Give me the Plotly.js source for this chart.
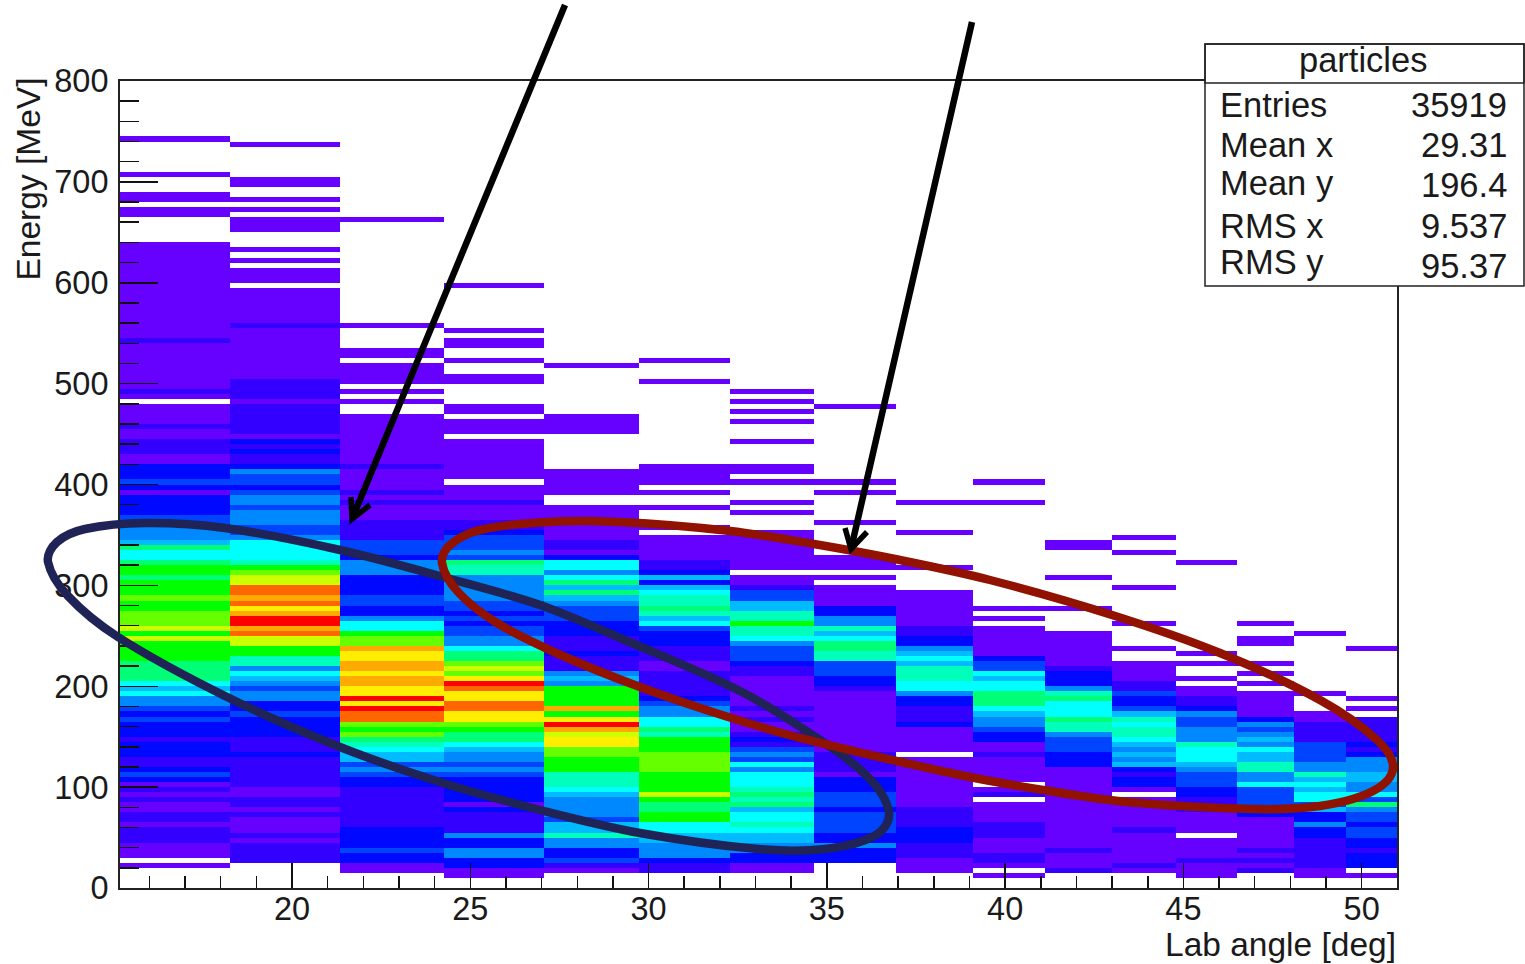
<!DOCTYPE html>
<html>
<head>
<meta charset="utf-8">
<script src="https://cdn.plot.ly/plotly-3.0.1.min.js"></script>
<style>html,body{margin:0;padding:0;background:#fff}#chart{width:1525px;height:964px}</style>
</head>
<body>
<div id="chart"></div>
<script>
// Lab-angle bin edges (degrees), 16 columns of unequal width
var angleEdges = [15.176,18.27,21.35,24.27,27.08,29.73,32.28,34.65,36.94,39.09,41.11,42.99,44.79,46.49,48.09,49.57,50.99];
var energyBinWidth = 5; // MeV
// Each column, bottom row first; colour level, 0 = empty
var col0 = [0,0,0,0,1,0,1,1,1,2, 2,2,1,2,2,1,1,2,1,2, 1,3,4,3,2,2,3,3,3,2, 3,3,3,4,3,4,5,5,7,6, 7,9,9,9,9,10,10,10,10,12, 10,12,11,11,11,10,10,11,10,10, 10,9,10,10,9,7,7,9,6,5, 5,5,4,4,3,3,3,3,1,3, 4,3,3,3,1,1,2,2,2,1, 1,2,1,1,1,1,0,1,2,1, 1,1,1,1,1,1,1,1,2,1, 1,1,1,1,1,1,1,1,1,1, 1,1,1,1,1,1,1,1,0,0, 0,0,0,1,1,0,1,1,0,0, 0,1,0,0,0,0,0,0,1];
var col1 = [0,0,0,0,0,2,2,2,2,1, 2,1,1,1,2,1,2,2,1,1, 2,2,2,2,2,2,3,2,2,2, 3,3,3,3,4,3,3,5,5,4, 5,6,7,5,8,8,10,10,12,12, 15,14,16,16,14,13,15,14,15,15, 12,12,11,10,8,7,7,7,7,5, 4,4,5,5,5,4,5,5,4,3, 4,4,5,3,2,2,3,2,3,1, 2,2,2,2,2,2,1,2,2,2, 2,1,1,1,1,1,1,1,1,1, 1,2,1,1,1,1,1,1,1,0, 1,1,1,0,1,0,1,0,0,0, 1,1,1,0,1,0,1,0,0,1, 1,0,0,0,0,0,0,1];
var col2 = [0,0,0,1,1,3,3,4,3,3, 3,3,2,2,2,2,2,2,2,2, 3,3,4,5,4,6,6,7,8,9, 11,10,11,15,15,16,13,16,13,13, 14,14,13,14,14,13,13,14,11,11, 10,7,7,5,3,3,4,4,3,3, 3,3,5,5,5,3,4,4,4,2, 2,2,2,1,1,1,2,1,2,1, 1,1,1,2,1,1,1,1,1,1, 1,1,1,1,0,0,1,0,1,0, 1,1,1,1,0,1,1,0,0,0, 0,1,0,0,0,0,0,0,0,0, 0,0,0,0,0,0,0,0,0,0, 0,0,1];
var col3 = [0,0,1,1,3,3,5,5,3,3, 5,2,2,2,2,3,1,3,3,3, 3,3,4,5,4,5,5,6,7,9, 9,10,11,13,13,15,15,13,13,15, 16,13,11,12,11,9,9,7,5,5, 4,4,3,4,3,4,4,5,5,5, 5,5,8,8,9,4,5,4,4,4, 3,2,2,1,1,1,2,1,1,1, 0,1,1,1,1,1,1,1,1,0, 1,1,1,0,1,1,0,0,0,0, 1,1,0,0,1,0,0,1,1,0, 1,0,0,0,0,0,0,0,0,1];
var col4 = [0,0,0,1,2,4,3,3,5,5, 8,6,6,4,5,5,5,5,6,7, 8,8,8,10,10,10,11,11,13,13, 12,14,16,13,10,14,10,10,10,10, 5,6,5,2,2,2,3,2,2,2, 3,3,3,4,4,4,5,6,9,6, 9,7,5,7,7,3,1,2,2,1, 1,1,1,1,1,1,0,0,1,1, 1,1,1,0,0,0,0,0,0,0, 1,1,1,1,0,0,0,0,0,0, 0,0,0,1];
var col5 = [0,0,0,2,2,3,5,5,5,6, 6,7,7,10,10,9,9,10,12,10, 10,10,10,11,11,11,11,10,10,10, 8,9,7,7,5,5,4,3,2,2, 2,2,2,1,1,2,2,2,3,3, 3,4,7,6,8,9,8,8,7,6, 3,6,3,2,2,1,1,1,1,1, 0,1,0,0,0,1,0,0,1,0, 1,1,1,1,0,0,0,0,0,0, 0,0,0,0,0,0,0,0,0,0, 1,0,0,0,1];
var col6 = [0,0,0,1,1,3,3,5,5,6, 6,7,8,7,7,6,9,8,9,8, 7,7,7,5,7,4,5,4,2,3, 2,1,1,2,1,2,1,1,1,1, 1,1,2,2,3,4,4,4,5,7, 8,8,10,8,8,6,6,4,4,2, 1,1,0,1,1,1,1,1,1,1, 1,0,0,0,1,0,1,0,0,0, 1,0,1,1,0,0,0,0,1,0, 0,0,1,0,1,0,1,0,1];
var col7 = [0,0,0,0,0,3,3,3,5,3, 3,4,4,4,4,3,4,4,4,3, 3,3,1,2,2,2,2,1,1,1, 1,1,1,1,1,1,1,1,1,2, 3,3,4,4,4,8,8,9,9,7, 6,8,5,5,3,3,1,1,1,1, 0,1,0,1,1,1,0,0,0,0, 0,0,1,0,0,0,0,0,1,0, 1,0,0,0,0,0,0,0,0,0, 0,0,0,0,0,1];
var col8 = [0,0,0,1,1,1,2,2,2,3, 3,3,2,2,2,2,1,1,1,1, 1,1,1,1,1,1,0,1,1,1, 1,1,3,2,2,2,3,3,5,7, 7,8,8,8,6,7,6,5,3,3, 2,2,1,1,1,1,1,1,1,0, 0,0,0,1,0,0,0,0,0,0, 1,0,0,0,0,0,1];
var col9 = [0,0,1,0,1,2,2,1,1,1, 2,2,2,1,1,1,1,0,2,1, 0,1,1,1,1,1,2,1,1,3, 3,4,5,5,6,7,9,9,9,7, 7,6,7,4,4,3,1,1,1,1, 1,1,0,1,0,1,0,0,0,0, 0,0,0,0,0,0,0,0,0,0, 0,0,0,0,0,0,1,0,0,0,1];
var col10 = [0,0,0,2,1,1,1,2,1,1, 1,1,1,1,1,1,1,1,1,1, 1,1,1,1,3,3,3,4,4,4, 5,8,8,9,7,7,7,9,8,5, 3,3,3,2,1,1,1,1,1,1, 1,0,0,0,0,1,0,0,0,0, 0,1,0,0,0,0,0,1,1];
var col11 = [0,0,0,1,2,1,1,1,1,1, 1,2,1,1,1,1,1,1,0,1, 3,3,2,3,6,5,6,5,6,7, 8,8,7,8,6,4,3,3,4,2, 2,1,1,1,1,0,0,1,0,0, 0,0,1,0,0,0,0,0,0,1, 0,0,0,0,0,0,1,0,0,1];
var col12 = [0,0,1,1,1,2,1,1,1,1, 0,1,1,1,1,2,2,2,3,3, 4,4,4,5,6,7,7,7,8,5, 5,5,4,4,5,3,2,2,1,1, 0,1,0,0,1,0,1,0,0,0, 0,0,0,0,0,0,0,0,0,0, 0,0,0,0,1];
var col13 = [0,0,0,2,1,2,1,2,1,1, 1,1,1,1,3,3,4,4,4,4, 7,5,5,8,8,6,6,7,5,6, 5,4,5,3,1,1,1,1,1,0, 1,0,1,0,1,0,0,0,1,1, 0,0,1];
var col14 = [0,0,1,1,2,2,2,2,2,2, 3,3,5,3,3,6,4,7,7,6, 7,6,8,5,5,4,4,4,4,2, 2,2,2,1,1,0,0,0,1,0, 0,0,0,0,0,0,0,0,0,0,1];
var col15 = [0,0,1,0,3,3,3,2,3,3, 4,4,3,4,4,5,9,4,7,5, 5,6,6,5,5,5,3,2,3,2, 2,2,2,2,0,1,0,1,0,0, 0,0,0,0,0,0,0,1];
var columns = [col0,col1,col2,col3,col4,col5,col6,col7,col8,col9,col10,col11,col12,col13,col14,col15];

var palette = ['#6600ff','#3300ff','#0008ff','#0044ff','#0088ff','#00bbff','#00ffff','#00ffbb','#00ff77','#00ff00','#66ff00','#ccff00','#ffee00','#ffaa00','#ff6600','#ff0000'];

var xTickVals = [20,25,30,35,40,45,50];
var yTickVals = [0,100,200,300,400,500,600,700,800];

// Stats box text
var statsTitle = 'particles';
var statsLabels = ['Entries','Mean x','Mean y','RMS x','RMS y'];
var statsValues = ['35919','29.31','196.4','9.537','95.37'];

// Hand-drawn overlays, as page pixels
var navyLoop = [[48,562],[57,542],[85,529],[145,523],[225,528],[340,550],[443,577],[540,605],[620,638],[738,690],[808,732],[868,777],[889,813],[876,835],[825,849],[758,849],[640,833],[540,810],[443,783],[340,747],[225,696],[118,637],[68,596]];
var redLoop = [[442,563],[450,545],[480,530],[547,522],[620,522],[730,531],[814,544],[900,560],[990,580],[1112,615],[1220,653],[1320,700],[1377,740],[1393,768],[1373,791],[1320,806],[1253,809],[1127,802],[1043,790],[960,775],[808,740],[725,716],[640,687],[563,656],[497,623],[458,592]];
var arrowA = {from:[565,5], tip:[352,519], wingL:[351,497], wingR:[370,505]};
var arrowB = {from:[972,22], tip:[851,549], wingL:[845,528], wingR:[867,532]};

var L=120,R=1397,T=81,B=888;
function px(x){return (x-L)/(R-L);}
function py(y){return (B-y)/(B-T);}
function P(p){return px(p[0]).toFixed(5)+','+py(p[1]).toFixed(5);}
function smoothLoop(pts){
  var n=pts.length, d='M'+P(pts[0]);
  function tan(i){
    var a=pts[(i-1+n)%n],b=pts[(i+1)%n],dx=b[0]-a[0],dy=b[1]-a[1],m=Math.hypot(dx,dy)||1;
    return [dx/m,dy/m];
  }
  for(var i=0;i<n;i++){
    var p1=pts[i],p2=pts[(i+1)%n],t1=tan(i),t2=tan((i+1)%n);
    var h=Math.hypot(p2[0]-p1[0],p2[1]-p1[1])/3;
    var c1=[p1[0]+t1[0]*h,p1[1]+t1[1]*h];
    var c2=[p2[0]-t2[0]*h,p2[1]-t2[1]*h];
    d+=' C'+P(c1)+' '+P(c2)+' '+P(p2);
  }
  return d+' Z';
}
function paperShape(path,color,w){
  return {type:'path',xref:'paper',yref:'paper',layer:'above',path:path,line:{color:color,width:w},fillcolor:'rgba(0,0,0,0)'};
}
function arrowShapes(a){
  return [
    paperShape('M'+P(a.from)+' L'+P(a.tip),'#000',6.5),
    paperShape('M'+P(a.wingL)+' L'+P(a.tip)+' L'+P(a.wingR),'#000',5.5)
  ];
}
function pxLine(x0,y0,x1,y1,fill){
  return {type:'rect',xref:'paper',yref:'paper',layer:'above',x0:px(x0),x1:px(x1),y0:py(y0),y1:py(y1),line:{color:'#222',width:1.5},fillcolor:fill};
}

var nRows = 160;
var yEdges=[]; for(var k=0;k<=nRows;k++) yEdges.push(k*energyBinWidth);
var z=[];
for(var r=0;r<nRows;r++){
  var row=[];
  for(var c=0;c<columns.length;c++){
    var v=columns[c][r];
    row.push(v? v : null);
  }
  z.push(row);
}
var scale=[];
palette.forEach(function(col,i){
  scale.push([i/palette.length,col]);
  scale.push([(i+1)/palette.length,col]);
});

var font={family:'"Liberation Sans",Arial,sans-serif',color:'#1a1a1a'};
function txt(t,x,y,anchor,size,extra){
  var a={text:t,xref:'paper',yref:'paper',x:px(x),y:py(y),xanchor:anchor,yanchor:'middle',showarrow:false,
    font:{family:font.family,color:font.color,size:size}};
  for(var k in extra)a[k]=extra[k];
  return a;
}
var annots=[
  txt('Lab angle [deg]',1398,944,'right',33.5),
  {text:'Energy [MeV]',xref:'paper',yref:'paper',x:px(28),y:py(76),xanchor:'center',yanchor:'top',textangle:-90,showarrow:false,font:{family:font.family,color:font.color,size:33.5}},
  txt(statsTitle,1363,60,'center',34.5)
];
var labelY=[105,145,183,226,262], valueY=[105,145,185,226,266];
statsLabels.forEach(function(s,i){annots.push(txt(s,1218,labelY[i],'left',34.5));});
statsValues.forEach(function(s,i){annots.push(txt(s,1509,valueY[i],'right',34.5));});

var shapes=[paperShape(smoothLoop(navyLoop),'#1f2356',8.5),paperShape(smoothLoop(redLoop),'#911200',8.5)]
  .concat(arrowShapes(arrowA)).concat(arrowShapes(arrowB))
  .concat([pxLine(1205,44,1524,286,'#fff'),pxLine(1205,44,1524,83,'rgba(0,0,0,0)')]);

Plotly.newPlot('chart',[{
  type:'heatmap',x:angleEdges,y:yEdges,z:z,
  colorscale:scale,zmin:0.5,zmax:16.5,showscale:false,hoverinfo:'skip',zsmooth:false,hoverongaps:false
}],{
  width:1525,height:964,
  paper_bgcolor:'#fff',plot_bgcolor:'#fff',
  margin:{l:L,r:1525-R,t:T,b:964-B,pad:0},
  showlegend:false,
  xaxis:{range:[15.176,50.99],tickmode:'array',tickvals:xTickVals,ticktext:xTickVals.map(String),
    ticks:'inside',ticklen:25,tickwidth:1.5,tickcolor:'#111',showgrid:false,zeroline:false,
    showline:true,mirror:true,linewidth:2,linecolor:'#222',
    minor:{dtick:1,ticks:'inside',ticklen:12,tickwidth:1.5,tickcolor:'#111',showgrid:false},
    tickfont:{family:font.family,color:font.color,size:32.5},ticklabelstandoff:-9},
  yaxis:{range:[0,800],tickmode:'array',tickvals:yTickVals,ticktext:yTickVals.map(String),
    ticks:'inside',ticklen:38,tickwidth:1.5,tickcolor:'#111',showgrid:false,zeroline:false,
    showline:true,mirror:true,linewidth:2,linecolor:'#222',
    minor:{dtick:20,ticks:'inside',ticklen:19,tickwidth:1.5,tickcolor:'#111',showgrid:false},
    tickfont:{family:font.family,color:font.color,size:32.5},ticklabelstandoff:3},
  shapes:shapes,annotations:annots
},{displayModeBar:false,staticPlot:true});
</script>
</body>
</html>
